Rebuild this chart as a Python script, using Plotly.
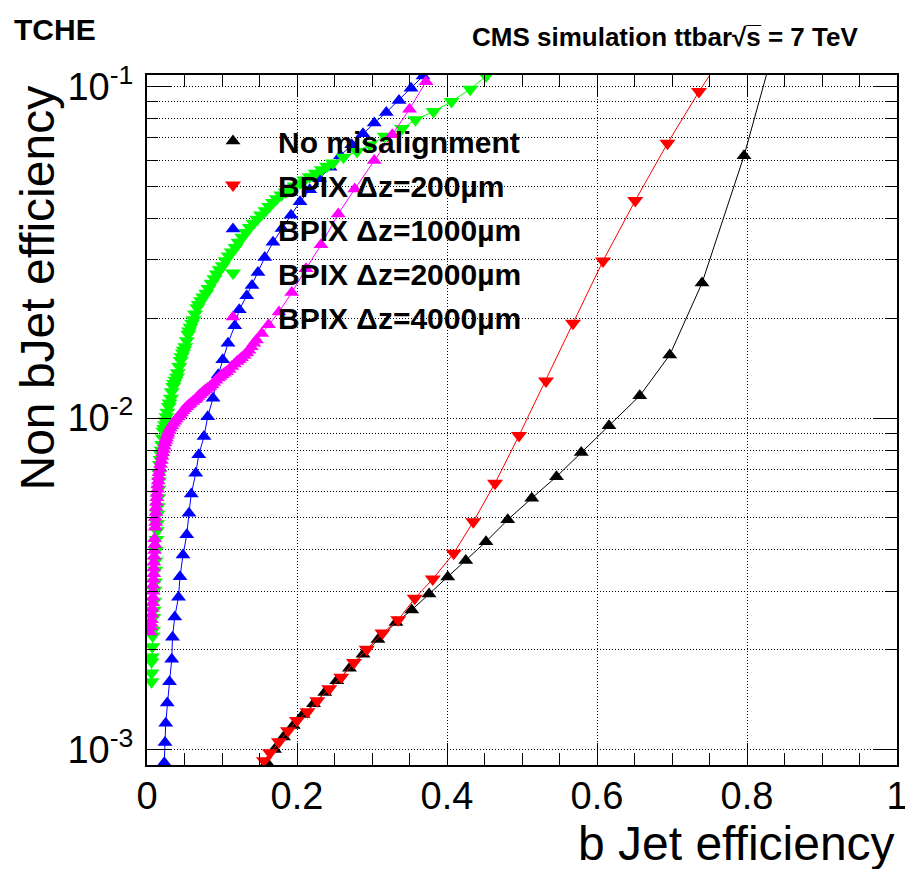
import plotly.graph_objects as go

# ---------------- data ----------------
series_names = ["No misalignment", "BPIX \u0394z=200\u00b5m", "BPIX \u0394z=1000\u00b5m",
                "BPIX \u0394z=2000\u00b5m", "BPIX \u0394z=4000\u00b5m"]

nomis_x = [0.160, 0.170, 0.182, 0.195, 0.208, 0.222, 0.237, 0.253, 0.270, 0.288, 0.308, 0.332,
           0.353, 0.376, 0.401, 0.425, 0.452, 0.481, 0.513, 0.546, 0.579, 0.616, 0.657, 0.697,
           0.740, 0.796, 0.840]
nomis_y = [9.12e-4, 1.000e-3, 1.091e-3, 1.180e-3, 1.274e-3, 1.374e-3, 1.486e-3, 1.611e-3,
           1.758e-3, 1.936e-3, 2.148e-3, 2.415e-3, 2.636e-3, 2.944e-3, 3.311e-3, 3.715e-3,
           4.236e-3, 4.932e-3, 5.728e-3, 6.653e-3, 7.870e-3, 9.484e-3, 0.01167, 0.01549,
           0.02553, 0.0618, 0.1413]

dz200_x = [0.156, 0.164, 0.176, 0.188, 0.200, 0.214, 0.227, 0.243, 0.259, 0.276, 0.293, 0.314,
           0.335, 0.357, 0.381, 0.409, 0.435, 0.464, 0.496, 0.532, 0.568, 0.608, 0.651, 0.694,
           0.736, 0.775]
dz200_y = [9.25e-4, 9.77e-4, 1.054e-3, 1.138e-3, 1.222e-3, 1.300e-3, 1.403e-3, 1.524e-3,
           1.652e-3, 1.828e-3, 2.004e-3, 2.244e-3, 2.460e-3, 2.858e-3, 3.266e-3, 3.908e-3,
           4.864e-3, 6.353e-3, 8.851e-3, 0.01294, 0.01932, 0.02979, 0.04529, 0.06745,
           0.0966, 0.1318]

dz1000_x = [0.368, 0.352, 0.336, 0.319, 0.303, 0.288, 0.273, 0.258, 0.244, 0.230, 0.217, 0.204,
            0.192, 0.180, 0.168, 0.157, 0.148, 0.140, 0.133, 0.123, 0.117, 0.108, 0.101, 0.095,
            0.088, 0.081, 0.076, 0.069, 0.065, 0.059, 0.056, 0.053, 0.048, 0.044, 0.042, 0.037,
            0.034, 0.033, 0.030, 0.027, 0.025, 0.024, 0.023]
dz1000_y = [0.1076, 0.0989, 0.0908, 0.0836, 0.0776, 0.0721, 0.0668, 0.0619, 0.0571, 0.0527,
            0.0488, 0.0449, 0.0409, 0.0373, 0.0339, 0.0305, 0.0275, 0.0251, 0.0234, 0.0212,
            0.0190, 0.0168, 0.0150, 0.0135, 0.01148, 0.01009, 0.00879, 0.00775, 0.00681,
            0.00590, 0.00516, 0.00444, 0.00386, 0.00332, 0.00288, 0.00251, 0.00218, 0.00187,
            0.00160, 0.00138, 0.00120, 0.00105, 9.12e-4]

dz2000_x = [0.475, 0.452, 0.431, 0.406, 0.382, 0.358, 0.340, 0.317, 0.297, 0.280, 0.262, 0.248,
            0.233, 0.217, 0.204, 0.191, 0.179, 0.168, 0.158, 0.147, 0.137, 0.127, 0.118, 0.109,
            0.101, 0.093, 0.086, 0.079, 0.072, 0.067, 0.062, 0.058, 0.055, 0.051, 0.048, 0.045,
            0.041, 0.038, 0.035, 0.032, 0.029, 0.026, 0.024, 0.022, 0.020, 0.019, 0.017, 0.016,
            0.015, 0.014, 0.013, 0.012, 0.011, 0.010, 0.009, 0.008, 0.007, 0.006, 0.006, 0.006,
            0.240, 0.225, 0.210, 0.197, 0.185, 0.173, 0.163, 0.152, 0.142, 0.132, 0.122, 0.113,
            0.105, 0.097, 0.090, 0.082, 0.075, 0.069, 0.064, 0.060, 0.056, 0.053, 0.049, 0.046,
            0.043, 0.040, 0.036, 0.033, 0.030, 0.027, 0.025, 0.023, 0.021, 0.0195, 0.018,
            0.0165, 0.0155, 0.0145, 0.0135, 0.0125, 0.0115, 0.0105, 0.0095, 0.0085, 0.0075,
            0.0065]
dz2000_y = [0.1175, 0.1076, 0.0982, 0.0902, 0.0841, 0.0794, 0.0748, 0.0708, 0.0667, 0.0637,
            0.0612, 0.0588, 0.0561, 0.0535, 0.0512, 0.0491, 0.0471, 0.0447, 0.0422, 0.0398,
            0.0376, 0.0351, 0.0327, 0.0308, 0.0288, 0.0272, 0.0255, 0.0238, 0.0226, 0.0215,
            0.0198, 0.0188, 0.0179, 0.0164, 0.0157, 0.0149, 0.0137, 0.0130, 0.01245, 0.01148,
            0.01084, 0.01009, 0.00955, 0.00912, 0.00832, 0.00776, 0.00724, 0.00646, 0.00575,
            0.00513, 0.00457, 0.00398, 0.00347, 0.00302, 0.00263, 0.00229, 0.00204, 0.00184,
            0.00170, 0.00160,
            0.0575, 0.0548, 0.0523, 0.0501, 0.0481, 0.0459, 0.0435, 0.0410, 0.0387, 0.0363,
            0.0339, 0.0317, 0.0298, 0.0280, 0.0263, 0.0246, 0.0232, 0.0220, 0.0206, 0.0193,
            0.0183, 0.0171, 0.0160, 0.0153, 0.0143, 0.0133, 0.0127, 0.0120, 0.0111, 0.0104,
            0.0098, 0.0093, 0.0087, 0.0080, 0.0075, 0.0068, 0.0061, 0.0054, 0.0048, 0.0043,
            0.0037, 0.0032, 0.0028, 0.0025, 0.0022, 0.0019]

dz4000_x = [0.372, 0.350, 0.327, 0.303, 0.277, 0.255, 0.232, 0.212, 0.193, 0.176, 0.162, 0.153,
            0.146, 0.139, 0.133, 0.126, 0.120, 0.113, 0.106, 0.100, 0.095, 0.089, 0.084, 0.078,
            0.073, 0.068, 0.064, 0.058, 0.053, 0.048, 0.044, 0.039, 0.035, 0.031, 0.028, 0.026,
            0.024, 0.022, 0.020, 0.018, 0.016, 0.015, 0.014, 0.013, 0.012, 0.011, 0.011, 0.010,
            0.010, 0.009, 0.009, 0.008, 0.008, 0.007, 0.006, 0.005, 0.004,
            0.0105, 0.0095, 0.009, 0.0085, 0.008, 0.0075, 0.0065, 0.0055, 0.012, 0.0115,
            0.0125, 0.0135, 0.0145, 0.0155, 0.017, 0.019, 0.021, 0.023, 0.025, 0.027, 0.0295,
            0.033, 0.037, 0.0415, 0.046, 0.0505, 0.0555, 0.061, 0.066, 0.0705, 0.0755, 0.081,
            0.0865, 0.092, 0.0975, 0.103, 0.1095, 0.1165, 0.123, 0.1295, 0.136, 0.1425]
dz4000_y = [0.1035, 0.0855, 0.0716, 0.0598, 0.0491, 0.0413, 0.0333, 0.0282, 0.0239, 0.0209,
            0.0191, 0.0180, 0.0172, 0.0164, 0.0157, 0.0152, 0.0148, 0.0143, 0.0138, 0.0135,
            0.0132, 0.0128, 0.01245, 0.01216, 0.01189, 0.01161, 0.01135, 0.01107, 0.01081,
            0.01052, 0.01021, 0.00993, 0.00964, 0.00933, 0.00900, 0.00871, 0.00840, 0.00804,
            0.00766, 0.00724, 0.00684, 0.00646, 0.00610, 0.00575, 0.00537, 0.00501, 0.00468,
            0.00432, 0.00398, 0.00367, 0.00339, 0.00313, 0.00288, 0.00266, 0.00246, 0.00234,
            0.00226,
            0.00415, 0.00383, 0.00353, 0.00326, 0.00300, 0.00277, 0.00256, 0.00240, 0.00519,
            0.00484, 0.00556, 0.00592, 0.00628, 0.00665, 0.00704, 0.00745, 0.00785, 0.00822,
            0.00855, 0.00885, 0.00917, 0.00948, 0.00978, 0.01007, 0.01036, 0.01066, 0.01094,
            0.01121, 0.01148, 0.01175, 0.01202, 0.0123, 0.0126, 0.0130, 0.01335, 0.01365,
            0.0140, 0.01455, 0.0150, 0.01545, 0.0160, 0.0168]

x_tickvals = [0, 0.2, 0.4, 0.6, 0.8, 1.0]
x_ticktext = ["0", "0.2", "0.4", "0.6", "0.8", "1"]
y_tickvals = [1e-3, 1e-2, 1e-1]
y_ticktext = ["10<sup>-3</sup>", "10<sup>-2</sup>", "10<sup>-1</sup>"]
y_minorvals = [m * 10.0 ** e for e in (-4, -3, -2, -1) for m in range(2, 10)]

# ---------------- styling ----------------
colors = ["black", "#ff0000", "#0000ff", "#00ff00", "#ff00ff"]
symbols = ["triangle-up", "triangle-down", "triangle-up", "triangle-down", "triangle-up"]
sizes = [13, 14, 13, 14, 13]

xs = [nomis_x, dz200_x, dz1000_x, dz2000_x, dz4000_x]
ys = [nomis_y, dz200_y, dz1000_y, dz2000_y, dz4000_y]

fig = go.Figure()
for i in range(5):
    # each curve is traced along decreasing mistag rate
    pts = sorted(zip(ys[i], xs[i]), reverse=True)
    fig.add_trace(go.Scatter(
        x=[p[1] for p in pts], y=[p[0] for p in pts], mode="lines+markers", showlegend=False,
        line=dict(color=colors[i], width=1),
        marker=dict(symbol=symbols[i], size=sizes[i], color=colors[i], line=dict(width=0)),
    ))
# legend entries (marker only, like the ROOT legend)
for i in range(5):
    fig.add_trace(go.Scatter(
        x=[None], y=[None], mode="markers", name=series_names[i], legendgroup=f"g{i}",
        marker=dict(symbol=symbols[i], size=sizes[i], color=colors[i], line=dict(width=0)),
    ))

FONT = "Liberation Sans, Arial, sans-serif"
axis_font = dict(family=FONT, size=38, color="black")
DOT = "1px,2px"

fig.update_layout(
    width=905, height=869,
    margin=dict(l=147, r=8, t=75, b=104, autoexpand=False),
    paper_bgcolor="white", plot_bgcolor="white",
    font=dict(family=FONT, color="black"),
    legend=dict(
        x=(188 - 147) / 750, y=(765 - 115) / 690, xanchor="left", yanchor="top",
        bgcolor="rgba(0,0,0,0)", borderwidth=0,
        font=dict(size=30, weight="bold", family=FONT),
        tracegroupgap=2, itemwidth=80,
    ),
    xaxis=dict(
        range=[0, 1], tickmode="array", tickvals=x_tickvals, ticktext=x_ticktext,
        ticks="inside", ticklen=22, tickwidth=1, tickcolor="black",
        showline=True, linecolor="black", linewidth=2, mirror="ticks",
        showgrid=True, gridcolor="black", gridwidth=1, griddash=DOT,
        zeroline=False, tickfont=axis_font, ticklabelstandoff=-4,
        ticklabeloverflow="allow", automargin=False,
        minor=dict(tickmode="linear", tick0=0, dtick=0.05, ticks="inside", ticklen=12,
                   tickcolor="black", tickwidth=1, showgrid=False),
    ),
    yaxis=dict(
        type="log", range=[-3.047, -0.965], tickmode="array", tickvals=y_tickvals,
        ticktext=y_ticktext,
        ticks="inside", ticklen=24, tickwidth=1, tickcolor="black",
        showline=True, linecolor="black", linewidth=2, mirror="ticks",
        showgrid=True, gridcolor="black", gridwidth=1, griddash=DOT,
        zeroline=False, tickfont=axis_font, ticklabelstandoff=4,
        ticklabeloverflow="allow", automargin=False,
        minor=dict(tickmode="array", tickvals=y_minorvals, ticks="inside", ticklen=11,
                   tickcolor="black", tickwidth=1, showgrid=True, gridcolor="black",
                   gridwidth=1, griddash=DOT),
    ),
    annotations=[
        dict(text="b Jet efficiency", xref="paper", yref="paper", x=1.0, y=-(843 - 765) / 690,
             xanchor="right", yanchor="middle", showarrow=False,
             font=dict(size=48, family=FONT, color="black")),
        dict(text="Non bJet efficiency", xref="paper", yref="paper", x=(37 - 147) / 750,
             y=(765 - 84) / 690, xanchor="center", yanchor="top", textangle=-90, showarrow=False,
             font=dict(size=48, family=FONT, color="black")),
        dict(text="TCHE", xref="paper", yref="paper", x=(12 - 147) / 750, y=(765 - 29) / 690,
             xanchor="left", yanchor="middle", showarrow=False,
             font=dict(size=30, weight="bold", family=FONT, color="black")),
        dict(text="CMS simulation ttbar\u221as\u0305 = 7 TeV", xref="paper", yref="paper",
             x=(860 - 147) / 750, y=(765 - 37) / 690, xanchor="right", yanchor="middle",
             showarrow=False,
             font=dict(size=26, weight="bold", family=FONT, color="black")),
    ],
)

fig.write_html("out.html")
